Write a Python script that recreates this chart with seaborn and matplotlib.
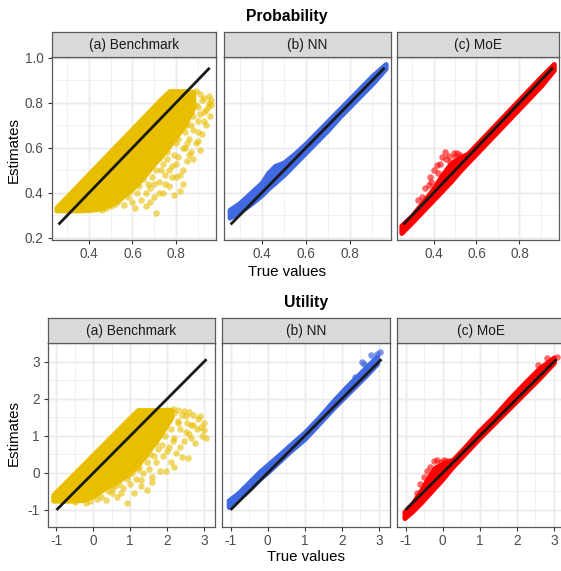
import numpy as np
import pandas as pd
import matplotlib
matplotlib.use("Agg")
import matplotlib.pyplot as plt
import seaborn as sns

# ---------------- data ----------------
panel_titles = ["(a) Benchmark", "(b) NN", "(c) MoE"]
row_titles = ["Probability", "Utility"]

prob_ticks = [0.4, 0.6, 0.8]
prob_yticks = [0.2, 0.4, 0.6, 0.8, 1.0]
util_ticks = [-1, 0, 1, 2, 3]
prob_line = [0.26, 0.955]
util_line = [-1.0, 3.07]

# Probability - benchmark dense core
pb_x = [0.25, 0.30, 0.35, 0.40, 0.45, 0.50, 0.55, 0.60, 0.65, 0.70, 0.73, 0.77, 0.80, 0.84, 0.88]
pb_hi = [0.335, 0.385, 0.435, 0.485, 0.535, 0.585, 0.635, 0.685, 0.735, 0.785, 0.815, 0.852, 0.852, 0.852, 0.848]
pb_lo = [0.322, 0.322, 0.322, 0.324, 0.33, 0.35, 0.38, 0.42, 0.47, 0.53, 0.56, 0.61, 0.65, 0.70, 0.78]
pb_px = [0.50, 0.53, 0.56, 0.58, 0.60, 0.62, 0.64, 0.66, 0.68, 0.70, 0.71, 0.72, 0.74, 0.75,
         0.77, 0.78, 0.79, 0.80, 0.81, 0.82, 0.83, 0.84, 0.85, 0.86, 0.87, 0.88, 0.89, 0.90,
         0.91, 0.92, 0.93, 0.94, 0.95, 0.955, 0.93, 0.91, 0.89, 0.67, 0.63, 0.76, 0.80, 0.73,
         0.69, 0.57, 0.54, 0.85, 0.87, 0.90, 0.83, 0.61, 0.945, 0.96,
         0.46, 0.48, 0.52, 0.55, 0.59, 0.62, 0.65, 0.66, 0.68, 0.70, 0.71, 0.72, 0.74, 0.75,
         0.76, 0.78, 0.79, 0.80, 0.81, 0.82, 0.83, 0.84, 0.85, 0.86, 0.87, 0.88, 0.89, 0.90,
         0.91, 0.92, 0.93, 0.94, 0.95, 0.96, 0.88, 0.90, 0.77]
pb_py = [0.34, 0.36, 0.345, 0.38, 0.36, 0.40, 0.37, 0.34, 0.42, 0.38, 0.31, 0.45, 0.40, 0.48,
         0.43, 0.52, 0.39, 0.47, 0.56, 0.41, 0.50, 0.60, 0.54, 0.64, 0.58, 0.68, 0.62, 0.72,
         0.59, 0.66, 0.76, 0.70, 0.80, 0.74, 0.82, 0.84, 0.85, 0.44, 0.43, 0.55, 0.62, 0.50,
         0.47, 0.40, 0.37, 0.70, 0.76, 0.78, 0.44, 0.335, 0.78, 0.81,
         0.325, 0.335, 0.35, 0.39, 0.41, 0.44, 0.46, 0.40, 0.36, 0.44, 0.50, 0.40, 0.53, 0.44,
         0.58, 0.47, 0.57, 0.53, 0.64, 0.48, 0.60, 0.67, 0.62, 0.57, 0.70, 0.74, 0.79, 0.67,
         0.75, 0.81, 0.72, 0.77, 0.83, 0.79, 0.55, 0.63, 0.50]

# Probability - NN band
pn_x = [0.255, 0.30, 0.35, 0.40, 0.43, 0.46, 0.50, 0.55, 0.60, 0.65, 0.70, 0.75, 0.80, 0.85, 0.90, 0.96]
pn_lo = [0.29, 0.315, 0.35, 0.39, 0.42, 0.445, 0.48, 0.53, 0.58, 0.63, 0.68, 0.735, 0.785, 0.835, 0.885, 0.952]
pn_hi = [0.325, 0.355, 0.40, 0.445, 0.49, 0.52, 0.535, 0.575, 0.62, 0.67, 0.72, 0.77, 0.82, 0.87, 0.92, 0.972]

# Probability - MoE band
pm_x = [0.25, 0.30, 0.33, 0.36, 0.40, 0.44, 0.48, 0.52, 0.56, 0.60, 0.65, 0.70, 0.75, 0.80, 0.85, 0.90, 0.96]
pm_lo = [0.222, 0.27, 0.30, 0.33, 0.37, 0.41, 0.45, 0.495, 0.535, 0.575, 0.625, 0.675, 0.725, 0.775, 0.825, 0.875, 0.945]
pm_hi = [0.255, 0.30, 0.335, 0.37, 0.42, 0.48, 0.53, 0.555, 0.575, 0.615, 0.665, 0.715, 0.765, 0.815, 0.865, 0.915, 0.972]
pm_px = [0.454, 0.415, 0.384, 0.377, 0.346, 0.524, 0.555, 0.493, 0.477, 0.44, 0.40, 0.36, 0.33,
         0.47, 0.51, 0.43, 0.46, 0.50, 0.39, 0.42]
pm_py = [0.583, 0.524, 0.472, 0.435, 0.383, 0.568, 0.561, 0.576, 0.539, 0.56, 0.50, 0.42, 0.37,
         0.565, 0.575, 0.53, 0.55, 0.56, 0.45, 0.49]

# Utility - benchmark dense core
ub_x = [-1.09, -0.6, -0.28, 0.0, 0.3, 0.7, 1.0, 1.21, 1.5, 1.8, 2.12]
ub_hi = [-0.59, -0.10, 0.22, 0.50, 0.80, 1.20, 1.50, 1.70, 1.70, 1.70, 1.70]
ub_lo = [-0.75, -0.75, -0.73, -0.62, -0.42, -0.20, 0.02, 0.22, 0.60, 1.00, 1.50]
ub_px = [-0.2, 0.1, 0.35, 0.5, 0.65, 0.9, 0.8, 1.0, 1.1, 1.3, 1.45, 1.5, 1.6, 1.7, 1.8, 1.9,
         1.98, 2.05, 2.1, 2.2, 2.25, 2.35, 2.4, 2.45, 2.55, 2.57, 2.6, 2.7, 2.75, 2.8, 2.85,
         2.93, 2.95, 3.06, 3.0, 2.2, 2.4, 2.0, 1.2, 0.95, 1.4, 1.75, 0.6, 2.65, 2.3,
         -0.5, -0.1, 0.2, 0.4, 0.5, 0.7, 0.75, 0.9, 1.05, 1.15, 1.25, 1.35, 1.45, 1.55, 1.65,
         1.7, 1.85, 1.95, 2.0, 2.1, 2.15, 2.3, 2.35, 2.5, 2.5, 2.65, 2.7, 2.9, 3.0, 2.6, 2.45,
         2.3, 2.15, 1.3, 1.6, 2.2]
ub_py = [-0.80, -0.70, -0.73, -0.55, -0.65, -0.82, -0.40, -0.30, -0.55, -0.20, -0.46, 0.10,
         -0.10, 0.30, 0.05, 0.45, 0.04, 0.70, 0.30, 0.95, 0.55, 1.20, 0.44, 0.85, 1.35, 0.40,
         1.05, 1.57, 0.80, 1.20, 1.45, 1.25, 1.00, 0.94, 1.15, 1.62, 1.57, 1.70, 0.10, -0.05,
         0.45, 0.65, -0.35, 1.30, 1.40,
         -0.78, -0.76, -0.65, -0.50, -0.40, -0.30, -0.55, -0.15, 0.0, -0.15, 0.15, 0.0, 0.30,
         0.50, 0.45, 0.80, 0.75, 1.00, 0.60, 1.20, 0.85, 1.35, 0.70, 1.10, 1.55, 0.95, 1.30,
         1.55, 1.35, 1.65, 1.68, 1.70, 1.72, -0.35, -0.25, 0.15]

# Utility - NN band
un_x = [-1.05, -0.8, -0.5, -0.2, 0.0, 0.3, 0.6, 1.0, 1.4, 1.8, 2.1, 2.4, 2.7, 2.95]
un_lo = [-0.92, -0.72, -0.45, -0.15, 0.02, 0.30, 0.58, 0.92, 1.35, 1.78, 2.08, 2.38, 2.68, 2.95]
un_hi = [-0.74, -0.55, -0.25, 0.05, 0.22, 0.48, 0.75, 1.10, 1.52, 1.98, 2.30, 2.60, 2.90, 3.15]
un_px = [3.03, 2.80, 2.54, 2.67, 2.36, 2.18, 2.90, 2.95, 2.60]
un_py = [3.28, 3.19, 3.01, 2.87, 2.60, 2.33, 3.05, 3.20, 2.95]

# Utility - MoE band
um_x = [-1.03, -0.8, -0.6, -0.4, -0.2, 0.0, 0.17, 0.3, 0.6, 1.0, 1.4, 1.8, 2.2, 2.6, 3.0]
um_lo = [-1.22, -1.02, -0.82, -0.60, -0.38, -0.16, 0.05, 0.20, 0.52, 0.95, 1.35, 1.75, 2.15, 2.55, 2.98]
um_hi = [-1.05, -0.80, -0.50, -0.15, 0.15, 0.25, 0.30, 0.38, 0.70, 1.15, 1.55, 2.00, 2.42, 2.82, 3.12]
um_px = [-0.145, -0.23, 0.17, -0.51, -0.69, 0.05, -0.35, 2.82, 3.09, 2.56, -0.05, 2.95,
         -0.42, -0.6, 0.1]
um_py = [0.35, 0.33, 0.31, -0.10, -0.55, 0.36, 0.15, 3.10, 3.14, 2.92, 0.30, 3.05,
         0.05, -0.30, 0.33]

# ---------------- style ----------------
sns.set_theme(style="white")
plt.rcParams["font.family"] = ["Liberation Sans", "DejaVu Sans"]

W, H = 561, 571
fig = plt.figure(figsize=(W / 100, H / 100), dpi=100)
fig.patch.set_facecolor("white")

YEL = "#E8BE00"
BLU = "#4169E1"
RED = "#FF0000"
GRID = "#EBEBEB"
BORDER = "#5A5A5A"


def rect(l, t, r, b):
    return [l / W, 1 - b / H, (r - l) / W, (b - t) / H]


def style_axes(ax, xlim, ylim, xt, yt, xminor, yminor, show_y):
    ax.set_xlim(*xlim)
    ax.set_ylim(*ylim)
    ax.set_facecolor("white")
    for v in xminor:
        ax.axvline(v, color=GRID, lw=0.5, zorder=0)
    for v in yminor:
        ax.axhline(v, color=GRID, lw=0.5, zorder=0)
    for v in xt:
        ax.axvline(v, color=GRID, lw=1.0, zorder=0)
    for v in yt:
        ax.axhline(v, color=GRID, lw=1.0, zorder=0)
    ax.set_xticks(xt)
    ax.set_xticklabels([f"{v:g}" for v in xt])
    ax.set_yticks(yt)
    if show_y:
        ax.set_yticklabels([f"{v:.1f}" if isinstance(v, float) else f"{v:g}" for v in yt])
        ax.tick_params(axis="y", length=3, width=0.8, color="#333333", pad=3,
                       labelsize=9.8, labelcolor="#4D4D4D", left=True)
    else:
        ax.tick_params(axis="y", left=False, labelleft=False)
    ax.tick_params(axis="x", length=3, width=0.8, color="#333333", pad=2,
                   labelsize=9.8, labelcolor="#4D4D4D", bottom=True)
    for s in ax.spines.values():
        s.set_color(BORDER)
        s.set_linewidth(0.9)
        s.set_zorder(10)
    ax.set_xlabel("")
    ax.set_ylabel("")


def strip(l, t, r, b, text):
    sa = fig.add_axes(rect(l, t, r, b))
    sa.set_facecolor("#D9D9D9")
    sa.set_xticks([])
    sa.set_yticks([])
    for s in sa.spines.values():
        s.set_color(BORDER)
        s.set_linewidth(0.9)
    sa.text(0.5, 0.47, text, ha="center", va="center", fontsize=9.8, color="#1A1A1A",
            transform=sa.transAxes)


def identity(ax, rng):
    df = pd.DataFrame({"x": rng, "y": rng})
    sns.lineplot(data=df, x="x", y="y", ax=ax, color="#1A1A1A", lw=2.0, zorder=5,
                 solid_capstyle="butt")


def band(ax, x, lo, hi, color):
    ax.fill_between(x, lo, hi, color=color, lw=3.5, edgecolor=color, joinstyle="round",
                    capstyle="round", zorder=2)


def pts(ax, x, y, color, alpha=0.6, s=22):
    df = pd.DataFrame({"x": x, "y": y})
    sns.scatterplot(data=df, x="x", y="y", ax=ax, color=color, s=s, alpha=alpha,
                    linewidth=0, zorder=3)


# ---------------- top row: Probability ----------------
top_cols = [(52, 216), (224, 391), (397, 559)]
pxlim = (0.23, 0.984)
pylim = (0.191, 1.003)
pxminor = [0.3, 0.5, 0.7, 0.9]
pyminor = [0.3, 0.5, 0.7, 0.9]
axes_top = []
for i, (l, r) in enumerate(top_cols):
    ax = fig.add_axes(rect(l, 57, r, 240))
    style_axes(ax, pxlim, pylim, prob_ticks, prob_yticks, pxminor, pyminor, i == 0)
    strip(l, 32, r, 57, panel_titles[i])
    axes_top.append(ax)

ax = axes_top[0]
band(ax, pb_x, pb_lo, pb_hi, YEL)
pts(ax, pb_px, pb_py, YEL)
identity(ax, prob_line)
style_axes(ax, pxlim, pylim, prob_ticks, prob_yticks, [], [], True)

ax = axes_top[1]
band(ax, pn_x, pn_lo, pn_hi, BLU)
identity(ax, prob_line)
style_axes(ax, pxlim, pylim, prob_ticks, prob_yticks, [], [], False)

ax = axes_top[2]
band(ax, pm_x, pm_lo, pm_hi, RED)
pts(ax, pm_px, pm_py, RED)
identity(ax, prob_line)
style_axes(ax, pxlim, pylim, prob_ticks, prob_yticks, [], [], False)

# ---------------- bottom row: Utility ----------------
bot_cols = [(48, 215), (222, 390), (397, 565)]
uxlim = (-1.23, 3.30)
uylim = (-1.46, 3.51)
uxminor = [-0.5, 0.5, 1.5, 2.5]
uyminor = [-0.5, 0.5, 1.5, 2.5]
axes_bot = []
for i, (l, r) in enumerate(bot_cols):
    ax = fig.add_axes(rect(l, 343, r, 527))
    style_axes(ax, uxlim, uylim, util_ticks, util_ticks, uxminor, uyminor, i == 0)
    strip(l, 318, r, 343, panel_titles[i])
    axes_bot.append(ax)

ax = axes_bot[0]
band(ax, ub_x, ub_lo, ub_hi, YEL)
pts(ax, ub_px, ub_py, YEL)
identity(ax, util_line)
style_axes(ax, uxlim, uylim, util_ticks, util_ticks, [], [], True)

ax = axes_bot[1]
band(ax, un_x, un_lo, un_hi, BLU)
pts(ax, un_px, un_py, BLU, alpha=0.7)
identity(ax, util_line)
style_axes(ax, uxlim, uylim, util_ticks, util_ticks, [], [], False)

ax = axes_bot[2]
band(ax, um_x, um_lo, um_hi, RED)
pts(ax, um_px, um_py, RED)
identity(ax, util_line)
style_axes(ax, uxlim, uylim, util_ticks, util_ticks, [], [], False)

# ---------------- titles ----------------
def ftext(x, y, s, **kw):
    fig.text(x / W, 1 - y / H, s, ha="center", va="center", **kw)

ftext(287, 16, row_titles[0], fontsize=11.3, fontweight="bold", color="black")
ftext(306, 303, row_titles[1], fontsize=11.3, fontweight="bold", color="black")
ftext(287, 272, "True values", fontsize=10.8, color="black")
ftext(306, 557, "True values", fontsize=10.8, color="black")
ftext(14, 150, "Estimates", fontsize=10.8, color="black", rotation=90)
ftext(14, 433, "Estimates", fontsize=10.8, color="black", rotation=90)

fig.savefig("out.png", dpi=100, facecolor="white")
